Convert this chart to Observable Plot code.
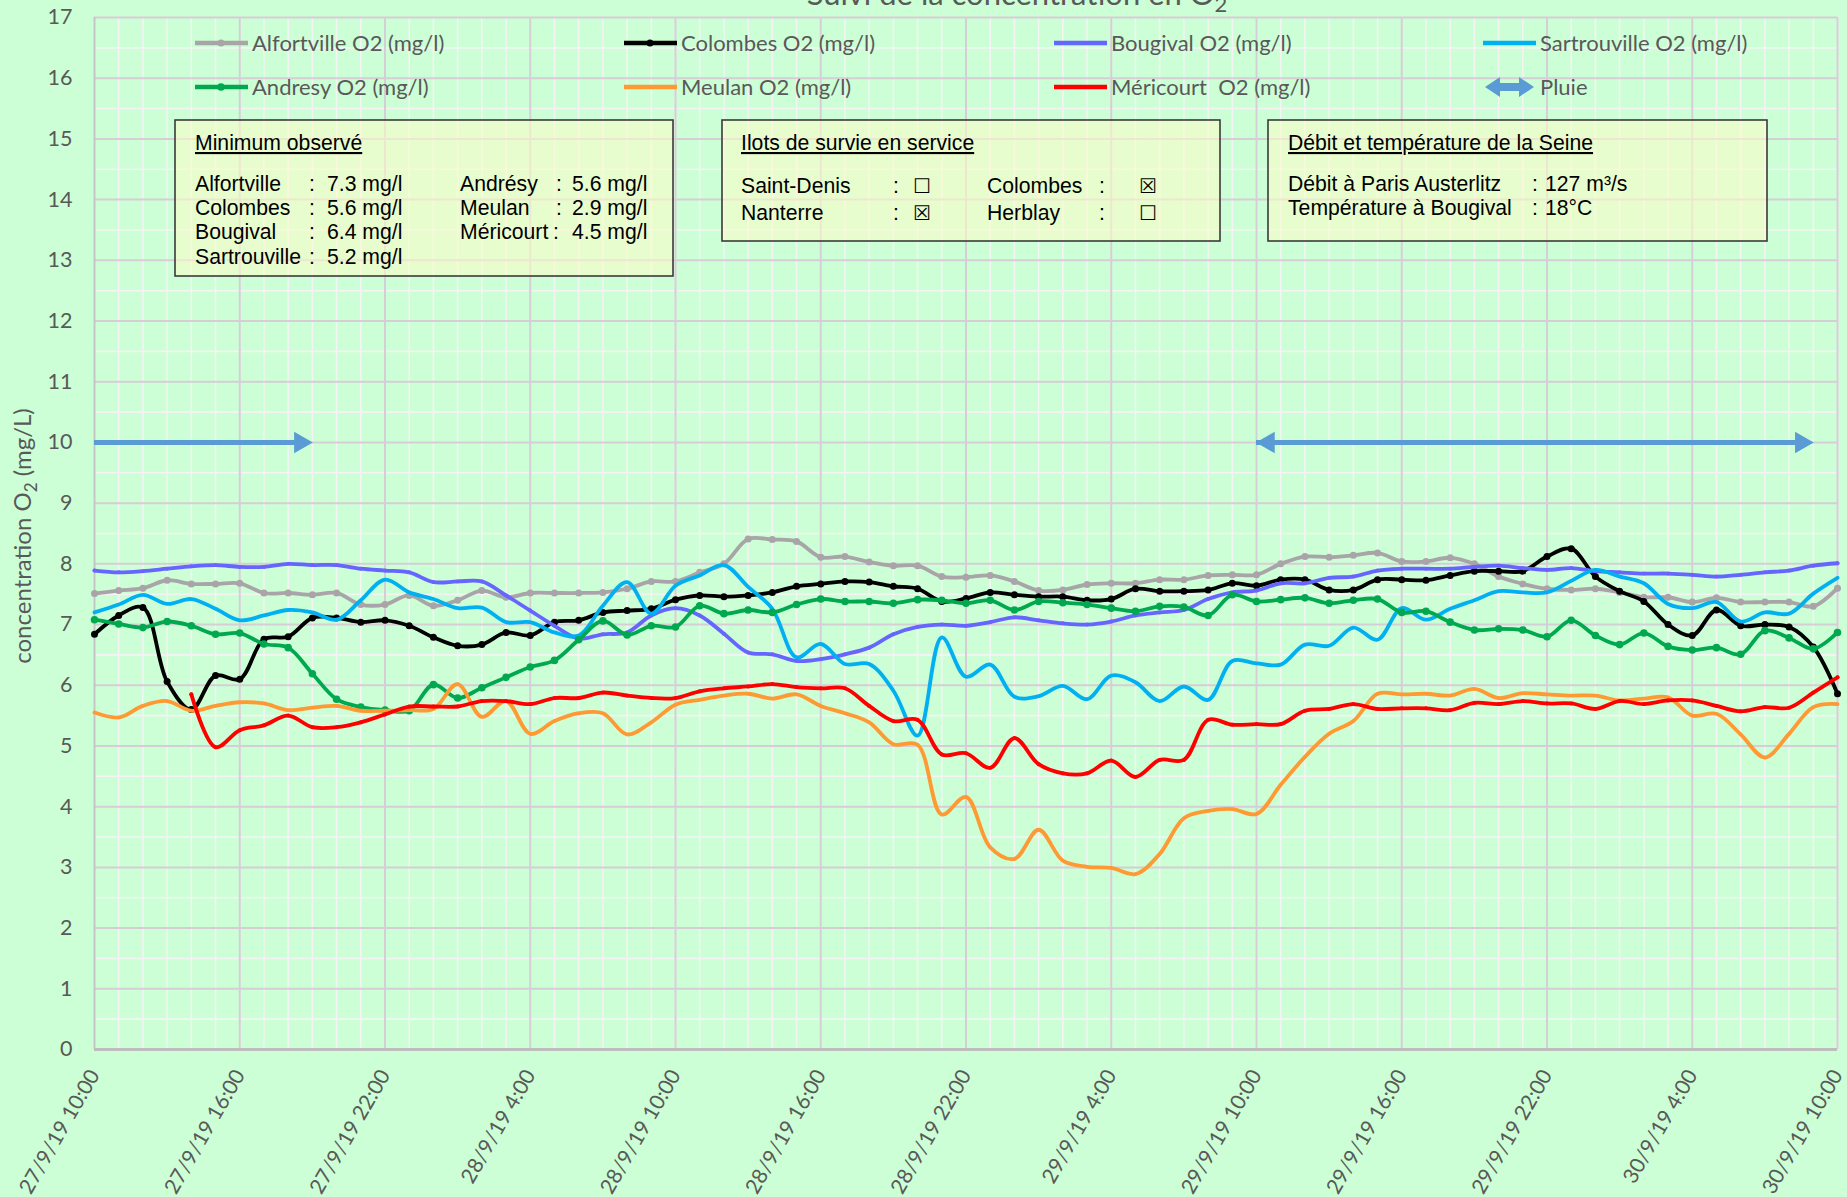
<!DOCTYPE html>
<html><head><meta charset="utf-8">
<script src="https://cdn.jsdelivr.net/npm/d3@7"></script>
<script src="https://cdn.jsdelivr.net/npm/@observablehq/plot@0.6"></script>
<style>
html,body{margin:0;padding:0;background:#ccffd5;overflow:hidden;width:1847px;height:1197px}
#wrap{position:relative;width:1847px;height:1197px}
#chart{position:absolute;left:0;top:0}
#overlay{position:absolute;left:0;top:0;pointer-events:none}
</style></head>
<body><div id="wrap"><div id="chart"></div><svg id="overlay" width="1847" height="1197"></svg></div>
<script>
// ---------- DATA ----------
const xTickLabels = ["27/9/19 10:00","27/9/19 16:00","27/9/19 22:00","28/9/19 4:00","28/9/19 10:00","28/9/19 16:00","28/9/19 22:00","29/9/19 4:00","29/9/19 10:00","29/9/19 16:00","29/9/19 22:00","30/9/19 4:00","30/9/19 10:00"];
const yTicks = [0,1,2,3,4,5,6,7,8,9,10,11,12,13,14,15,16,17];

const alfortville = [7.51,7.56,7.60,7.73,7.67,7.67,7.68,7.52,7.52,7.49,7.52,7.33,7.33,
 7.48,7.31,7.40,7.56,7.45,7.52,7.52,7.52,7.53,7.59,7.71,7.71,
 7.86,8.00,8.41,8.40,8.37,8.11,8.12,8.03,7.97,7.97,7.79,7.78,
 7.81,7.71,7.56,7.57,7.66,7.68,7.68,7.74,7.74,7.81,7.82,7.82,
 8.00,8.12,8.11,8.14,8.18,8.04,8.04,8.10,8.00,7.79,7.67,7.59,
 7.57,7.59,7.53,7.45,7.45,7.37,7.44,7.37,7.37,7.37,7.30,7.60];
const colombes = [6.84,7.15,7.28,6.06,5.60,6.16,6.10,6.76,6.80,7.11,7.11,7.04,7.07,
 6.98,6.79,6.65,6.67,6.87,6.82,7.04,7.07,7.20,7.23,7.26,7.41,
 7.48,7.46,7.48,7.53,7.63,7.67,7.71,7.70,7.63,7.59,7.38,7.43,
 7.53,7.49,7.46,7.46,7.40,7.42,7.59,7.55,7.55,7.57,7.68,7.64,
 7.74,7.74,7.57,7.57,7.74,7.74,7.73,7.81,7.88,7.88,7.88,8.12,
 8.25,7.79,7.55,7.38,7.00,6.82,7.24,6.98,7.00,6.96,6.63,5.86];
const bougival = [7.89,7.86,7.88,7.92,7.96,7.98,7.95,7.95,8.00,7.98,7.98,7.92,7.89,
 7.86,7.70,7.71,7.71,7.48,7.23,6.98,6.77,6.84,6.87,7.15,7.27,
 7.15,6.85,6.54,6.51,6.40,6.43,6.51,6.62,6.84,6.96,7.00,6.98,
 7.04,7.12,7.07,7.02,7.00,7.05,7.15,7.20,7.24,7.42,7.53,7.56,
 7.68,7.68,7.77,7.79,7.89,7.92,7.92,7.92,7.95,7.97,7.93,7.90,
 7.93,7.88,7.86,7.84,7.84,7.82,7.79,7.82,7.86,7.89,7.97,8.01];
const sartrouville = [7.20,7.33,7.49,7.34,7.42,7.26,7.07,7.15,7.24,7.20,7.08,7.40,7.74,
 7.53,7.42,7.27,7.28,7.04,7.04,6.87,6.82,7.31,7.70,7.18,7.64,
 7.81,7.98,7.62,7.26,6.46,6.68,6.35,6.35,5.91,5.17,6.79,6.14,
 6.34,5.81,5.82,5.99,5.77,6.16,6.05,5.74,5.98,5.76,6.40,6.36,
 6.34,6.67,6.65,6.95,6.75,7.27,7.08,7.26,7.40,7.55,7.53,7.53,
 7.72,7.90,7.79,7.68,7.34,7.27,7.37,7.05,7.20,7.18,7.51,7.77];
const andresy = [7.08,7.01,6.95,7.05,6.98,6.84,6.86,6.68,6.62,6.19,5.77,5.64,5.59,
 5.58,6.01,5.79,5.96,6.13,6.30,6.41,6.75,7.06,6.83,6.98,6.96,
 7.31,7.18,7.24,7.20,7.33,7.42,7.38,7.38,7.35,7.41,7.40,7.35,
 7.40,7.24,7.38,7.36,7.33,7.27,7.22,7.30,7.29,7.15,7.49,7.38,
 7.41,7.44,7.35,7.40,7.42,7.20,7.22,7.04,6.91,6.93,6.91,6.80,
 7.07,6.82,6.67,6.86,6.64,6.58,6.62,6.51,6.90,6.78,6.60,6.87];
const meulan = [5.55,5.47,5.66,5.74,5.58,5.66,5.72,5.70,5.59,5.63,5.66,5.58,5.58,
 5.59,5.61,6.02,5.48,5.74,5.20,5.41,5.54,5.54,5.19,5.39,5.68,
 5.76,5.83,5.86,5.78,5.85,5.66,5.54,5.39,5.03,5.02,3.87,4.16,
 3.33,3.14,3.62,3.11,3.01,2.99,2.89,3.22,3.81,3.93,3.96,3.88,
 4.36,4.82,5.20,5.41,5.86,5.85,5.86,5.83,5.94,5.79,5.87,5.85,
 5.83,5.83,5.75,5.78,5.80,5.50,5.53,5.19,4.81,5.20,5.64,5.69];
const mericourt = [null,null,null,null,5.85,4.98,5.26,5.34,5.50,5.31,5.31,5.39,5.52,
 5.65,5.65,5.65,5.74,5.74,5.69,5.79,5.79,5.88,5.83,5.79,5.79,
 5.90,5.95,5.98,6.02,5.97,5.95,5.95,5.66,5.41,5.43,4.86,4.88,
 4.64,5.13,4.70,4.55,4.55,4.76,4.49,4.77,4.77,5.43,5.35,5.36,
 5.36,5.58,5.61,5.69,5.61,5.62,5.62,5.59,5.71,5.69,5.74,5.70,
 5.70,5.61,5.74,5.69,5.75,5.75,5.66,5.57,5.64,5.63,5.88,6.13];

const seriesNames = ["Alfortville O2 (mg/l)","Colombes O2 (mg/l)","Bougival O2 (mg/l)","Sartrouville O2 (mg/l)","Andresy O2 (mg/l)","Meulan O2 (mg/l)","Méricourt  O2 (mg/l)"];
const seriesValues = [alfortville, colombes, bougival, sartrouville, andresy, meulan, mericourt];
const seriesColors = ["#a8a4a8","#000000","#6666ff","#00b0f0","#00a84f","#ff9933","#ff0000"];
const seriesMarkerR = [3.5,3.5,2,0,3.8,1.5,2];

// rain periods (hours from 27/9/19 10:00), value 10
const pluieStart = [0, 48];
const pluieEnd = [9, 71];
const pluieHeadLeft = [false, true];
const pluieLevel = 10;

const minTitle = "Minimum observé";
const minStationsA = ["Alfortville","Colombes","Bougival","Sartrouville"];
const minValuesA = ["7.3 mg/l","5.6 mg/l","6.4 mg/l","5.2 mg/l"];
const minStationsB = ["Andrésy","Meulan","Méricourt"];
const minValuesB = ["5.6 mg/l","2.9 mg/l","4.5 mg/l"];

const ilotsTitle = "Ilots de survie en service";
const ilotsA = [["Saint-Denis", false],["Nanterre", true]];
const ilotsB = [["Colombes", true],["Herblay", false]];

const debitTitle = "Débit et température de la Seine";
const debitLabels = ["Débit à Paris Austerlitz","Température à Bougival"];
const debitValues = ["127 m³/s","18°C"];

// ---------- BUILD ----------
const W = 1847, H = 1197;
const tables = seriesValues.map((vals, k) => vals.map((v, i) => ({h: i, v, s: seriesNames[k]})).filter(d => d.v != null));
const pluie = pluieStart.map((s, i) => ({start: s, end: pluieEnd[i], left: pluieHeadLeft[i]}));
const heads = pluie.flatMap(p => [{h: p.end, dir: 1}].concat(p.left ? [{h: p.start, dir: -1}] : []));

const major = "#d6ced6", minor = "#f4f4f4";
const marks = [
  Plot.gridX(d3.range(0, 73, 1), {stroke: minor, strokeOpacity: 1, strokeWidth: 1.6}),
  Plot.gridY(d3.range(0.5, 17, 1), {stroke: minor, strokeOpacity: 1, strokeWidth: 1.6}),
  Plot.gridX(d3.range(6, 73, 6), {stroke: major, strokeOpacity: 1, strokeWidth: 2}),
  Plot.gridY(d3.range(1, 18, 1), {stroke: major, strokeOpacity: 1, strokeWidth: 2}),
  Plot.ruleX([0], {stroke: "#c4c4c4", strokeWidth: 2}),
  Plot.ruleY([0], {stroke: "#bdbdbd", strokeWidth: 3}),
  Plot.axisY({ticks: yTicks, tickSize: 0, tickPadding: 22, fontSize: 21.5, fill: "#595959", label: null}),
  Plot.axisX({ticks: d3.range(0, 73, 6), tickFormat: d => xTickLabels[d / 6], tickRotate: -60, tickSize: 0, tickPadding: 22, fontSize: 21, fill: "#595959", label: null})
];
tables.forEach((t, k) => {
  marks.push(Plot.line(t, {x: "h", y: "v", stroke: seriesColors[k], strokeWidth: 3.8, curve: "catmull-rom"}));
  if (seriesMarkerR[k] > 0) marks.push(Plot.dot(t, {x: "h", y: "v", fill: seriesColors[k], r: seriesMarkerR[k]}));
});
marks.push(Plot.ruleY(pluie, {y: () => pluieLevel, x1: "start", x2: "end", stroke: "#5b9bd5", strokeWidth: 5, insetRight: 10}));
marks.push(Plot.dot(heads.filter(d => d.dir > 0), {x: "h", y: () => pluieLevel, symbol: "triangle", rotate: 90, r: 8, fill: "#5b9bd5", dx: -12}));
marks.push(Plot.dot(heads.filter(d => d.dir < 0), {x: "h", y: () => pluieLevel, symbol: "triangle", rotate: -90, r: 8, fill: "#5b9bd5", dx: 12}));

const chart = Plot.plot({
  width: W, height: H,
  marginLeft: 94, marginRight: 10, marginTop: 17, marginBottom: 148,
  style: {background: "#ccffd5", fontFamily: "Lato, sans-serif", color: "#595959"},
  x: {domain: [0, 72], axis: null},
  y: {domain: [0, 17], axis: null},
  marks
});
document.getElementById("chart").appendChild(chart);

// ---------- OVERLAY: title, legend, boxes, y label ----------
const ov = d3.select("#overlay");
const gray = "#595959";
const title = ov.append("text").attr("x", 1017).attr("y", 5).attr("text-anchor", "middle")
  .attr("font-family", "Lato, sans-serif").attr("font-size", 31).attr("fill", gray);
title.append("tspan").text("Suivi de la concentration en O");
title.append("tspan").attr("font-size", 22).attr("dy", 7).text("2");

const ylab = ov.append("text").attr("transform", "translate(31,536) rotate(-90)").attr("text-anchor", "middle")
  .attr("font-family", "Lato, sans-serif").attr("font-size", 24).attr("fill", gray);
ylab.append("tspan").text("concentration O");
ylab.append("tspan").attr("font-size", 17).attr("dy", 6).text("2");
ylab.append("tspan").attr("dy", -6).text(" (mg/L)");

// legend
const legCols = [195, 624, 1054, 1483], legRows = [43, 87];
seriesNames.forEach((name, k) => {
  const x = legCols[k % 4], y = legRows[Math.floor(k / 4)];
  ov.append("line").attr("x1", x).attr("x2", x + 53).attr("y1", y).attr("y2", y)
    .attr("stroke", seriesColors[k]).attr("stroke-width", 4.5);
  if (seriesMarkerR[k] > 0) ov.append("circle").attr("cx", x + 26).attr("cy", y).attr("r", Math.max(2, seriesMarkerR[k]))
    .attr("fill", seriesColors[k]);
  ov.append("text").attr("x", x + 57).attr("y", y + 8).attr("font-family", "Lato, sans-serif")
    .attr("font-size", 22).attr("fill", gray).attr("xml:space", "preserve").style("white-space", "pre").text(name);
});
{
  const x = legCols[3], y = legRows[1];
  ov.append("path").attr("fill", "#5b9bd5")
    .attr("d", `M${x+2},${y} L${x+17},${y-10} L${x+17},${y-4} L${x+36},${y-4} L${x+36},${y-10} L${x+51},${y} L${x+36},${y+10} L${x+36},${y+4} L${x+17},${y+4} L${x+17},${y+10} Z`);
  ov.append("text").attr("x", x + 57).attr("y", y + 8).attr("font-family", "Lato, sans-serif")
    .attr("font-size", 22).attr("fill", gray).text("Pluie");
}

// boxes
const boxFont = "'Liberation Sans', Arial, sans-serif";
function box(x, y, w, h) {
  ov.append("rect").attr("x", x).attr("y", y).attr("width", w).attr("height", h)
    .attr("fill", "#fffcc8").attr("fill-opacity", 0.55).attr("stroke", "#3a3a3a").attr("stroke-width", 1.6);
}
function txt(x, y, s, opts = {}) {
  const t = ov.append("text").attr("x", x).attr("y", y).attr("font-family", opts.font || boxFont)
    .attr("font-size", opts.size || 21.2).attr("fill", "#000").text(s);
  if (opts.underline) t.attr("text-decoration", "underline");
  return t;
}
box(175, 120, 498, 156);
txt(195, 150, minTitle, {underline: true});
minStationsA.forEach((s, i) => { const y = 191 + i * 24.2; txt(195, y, s); txt(309, y, ":"); txt(327, y, minValuesA[i]); });
minStationsB.forEach((s, i) => { const y = 191 + i * 24.2; txt(460, y, s); txt(s === "Méricourt" ? 553 : 556, y, ":"); txt(572, y, minValuesB[i]); });

box(722, 120, 498, 121);
txt(741, 150, ilotsTitle, {underline: true});
const cb = "'DejaVu Sans', sans-serif";
ilotsA.forEach(([s, on], i) => { const y = 193 + i * 27; txt(741, y, s); txt(893, y, ":"); txt(913, y, on ? "☒" : "☐", {font: cb, size: 20}); });
ilotsB.forEach(([s, on], i) => { const y = 193 + i * 27; txt(987, y, s); txt(1099, y, ":"); txt(1139, y, on ? "☒" : "☐", {font: cb, size: 20}); });

box(1268, 120, 499, 121);
txt(1288, 150, debitTitle, {underline: true});
debitLabels.forEach((s, i) => { const y = 191 + i * 24.2; txt(1288, y, s); txt(1532, y, ":"); txt(1545, y, debitValues[i]); });
</script>
</body></html>
